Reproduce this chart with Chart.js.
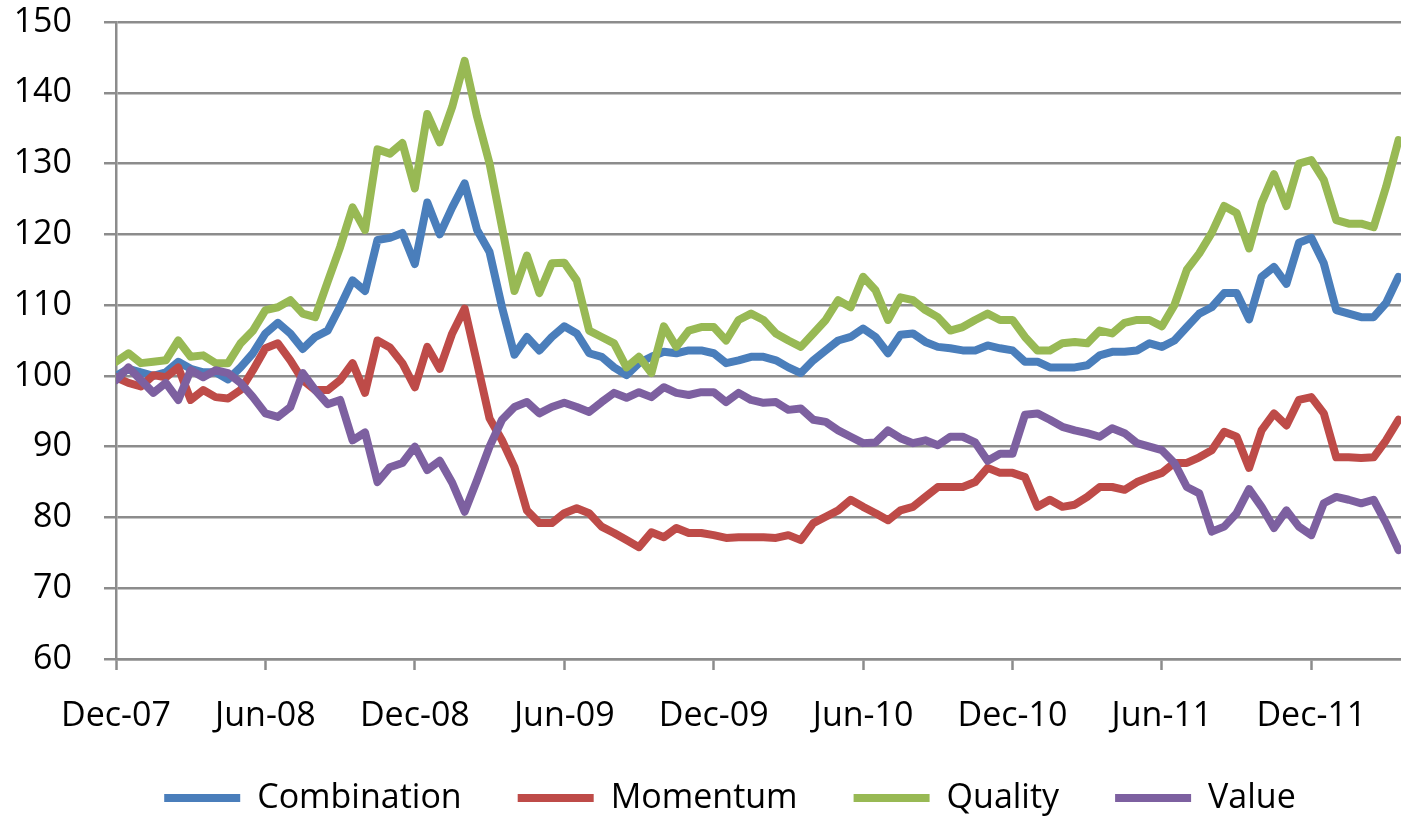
<!DOCTYPE html>
<html>
<head>
<meta charset="utf-8">
<script src="https://cdn.jsdelivr.net/npm/chart.js@4.4.1/dist/chart.umd.min.js"></script>
<style>
  html, body { margin: 0; padding: 0; background: #ffffff; }
  #wrap { width: 1401px; height: 820px; }
</style>
</head>
<body>
<div id="wrap"><canvas id="c" width="1401" height="820"></canvas></div>
<script>
// Months since Dec-2007 (semi-monthly observations)
const months = [
  0, 0.5, 1, 1.5, 2, 2.5, 3, 3.5, 4, 4.5,
  5, 5.5, 6, 6.5, 7, 7.5, 8, 8.5, 9, 9.5,
  10, 10.5, 11, 11.5, 12, 12.5, 13, 13.5, 14, 14.5,
  15, 15.5, 16, 16.5, 17, 17.5, 18, 18.5, 19, 19.5,
  20, 20.5, 21, 21.5, 22, 22.5, 23, 23.5, 24, 24.5,
  25, 25.5, 26, 26.5, 27, 27.5, 28, 28.5, 29, 29.5,
  30, 30.5, 31, 31.5, 32, 32.5, 33, 33.5, 34, 34.5,
  35, 35.5, 36, 36.5, 37, 37.5, 38, 38.5, 39, 39.5,
  40, 40.5, 41, 41.5, 42, 42.5, 43, 43.5, 44, 44.5,
  45, 45.5, 46, 46.5, 47, 47.5, 48, 48.5, 49, 49.5,
  50, 50.5, 51, 51.5
];

const combination = [
  100, 101, 100.5, 100, 100.5, 102, 101, 100.5, 100.5, 99.5,
  101.2, 103.2, 106, 107.5, 106, 103.8, 105.5, 106.4, 109.8, 113.5,
  112, 119.2, 119.5, 120.2, 115.8, 124.5, 120, 123.8, 127.2, 120.6,
  117.5, 109.7, 103, 105.5, 103.6, 105.5, 107, 106, 103.2, 102.7,
  101.2, 100.1, 101.8, 102.7, 103.4, 103.2, 103.6, 103.6, 103.2, 101.8,
  102.2, 102.7, 102.7, 102.2, 101.2, 100.4, 102.2, 103.6, 105, 105.5,
  106.7, 105.5, 103.2, 105.8, 106, 104.8, 104.1, 103.9, 103.6, 103.6,
  104.3, 103.9, 103.6, 102, 102, 101.2, 101.2, 101.2, 101.5, 102.9,
  103.4, 103.4, 103.6, 104.6, 104.1, 105, 106.9, 108.8, 109.7, 111.7,
  111.7, 108, 114, 115.4, 113, 118.8, 119.5, 115.9, 109.3, 108.8,
  108.3, 108.3, 110.3, 114
];

const momentum = [
  99.8, 99, 98.5, 100.1, 99.8, 101.2, 96.6, 98, 97, 96.8,
  98, 100.8, 103.9, 104.6, 102.2, 99.4, 98, 98, 99.4, 101.8,
  97.6, 105, 104, 101.8, 98.4, 104.1, 101, 106, 109.5, 101.8,
  94, 90.9, 87.1, 81, 79.2, 79.2, 80.6, 81.3, 80.6, 78.7,
  77.8, 76.8, 75.8, 77.9, 77.2, 78.5, 77.8, 77.8, 77.5, 77.1,
  77.2, 77.2, 77.2, 77.1, 77.5, 76.8, 79.2, 80.1, 81, 82.5,
  81.5, 80.6, 79.6, 81, 81.5, 82.9, 84.3, 84.3, 84.3, 85,
  87, 86.3, 86.3, 85.7, 81.5, 82.5, 81.5, 81.8, 82.9, 84.3,
  84.3, 83.9, 85, 85.7, 86.3, 87.7, 87.7, 88.5, 89.5, 92.1,
  91.4, 87, 92.3, 94.7, 93, 96.6, 97, 94.7, 88.5, 88.5,
  88.4, 88.5, 90.9, 93.8
];

const quality = [
  102, 103.2, 101.8, 102, 102.2, 105, 102.7, 102.9, 101.8, 101.8,
  104.6, 106.4, 109.3, 109.7, 110.7, 108.8, 108.3, 113.3, 118.2, 123.8,
  120.6, 132, 131.4, 132.9, 126.5, 137, 133, 138, 144.5, 136.6,
  130, 121, 112, 117, 111.7, 115.9, 116, 113.5, 106.4, 105.5,
  104.6, 101.2, 102.7, 100.4, 107, 104.1, 106.4, 106.9, 106.9, 105,
  107.9, 108.8, 107.9, 106, 105, 104.1, 106, 107.9, 110.7, 109.7,
  114, 112.1, 107.9, 111.1, 110.7, 109.3, 108.3, 106.4, 106.9, 107.9,
  108.8, 107.9, 107.9, 105.5, 103.6, 103.6, 104.6, 104.8, 104.6, 106.4,
  106, 107.5, 107.9, 107.9, 107, 110, 115, 117.3, 120.2, 124,
  123, 118, 124.4, 128.5, 124, 130, 130.5, 127.7, 122, 121.5,
  121.5, 121, 126.7, 133.3
];

const value = [
  99.4, 101.2, 99.4, 97.6, 99, 96.6, 100.8, 99.8, 100.8, 100.4,
  99, 97, 94.7, 94.2, 95.6, 100.4, 98, 96, 96.6, 90.9,
  92, 85, 87.1, 87.7, 90, 86.7, 88, 84.9, 80.8, 85.3,
  90, 93.8, 95.6, 96.3, 94.7, 95.6, 96.2, 95.6, 94.9, 96.3,
  97.6, 96.9, 97.7, 97, 98.4, 97.6, 97.3, 97.7, 97.7, 96.3,
  97.6, 96.6, 96.2, 96.3, 95.2, 95.4, 93.8, 93.5, 92.3, 91.4,
  90.5, 90.6, 92.3, 91.2, 90.5, 90.9, 90.2, 91.4, 91.4, 90.6,
  88, 89, 89, 94.5, 94.7, 93.8, 92.8, 92.3, 91.9, 91.4,
  92.6, 91.9, 90.5, 90, 89.5, 87.7, 84.3, 83.4, 78, 78.7,
  80.6, 84, 81.5, 78.5, 81, 78.7, 77.5, 82, 82.9, 82.5,
  82, 82.5, 79.2, 75.4
];

const tickMonths = [0, 6, 12, 18, 24, 30, 36, 42, 48];
const tickLabels = ['Dec-07', 'Jun-08', 'Dec-08', 'Jun-09', 'Dec-09', 'Jun-10', 'Dec-10', 'Jun-11', 'Dec-11'];

const seriesNames = ['Combination', 'Momentum', 'Quality', 'Value'];
const seriesData = [combination, momentum, quality, value];
const seriesColors = ['#4A7EBB', '#BE4B48', '#98B954', '#7D60A0'];
const seriesOrder = [4, 3, 2, 1];

const FONT = "'Open Sans', 'Liberation Sans', sans-serif";
const GRID = '#8c8c8c';

const datasets = seriesNames.map((name, i) => ({
  label: name,
  data: months.map((m, j) => ({ x: m, y: seriesData[i][j] })),
  borderColor: seriesColors[i],
  backgroundColor: seriesColors[i],
  borderWidth: 8,
  borderCapStyle: 'round',
  borderJoinStyle: 'round',
  pointRadius: 0,
  pointHoverRadius: 0,
  pointStyle: 'line',
  tension: 0,
  order: seriesOrder[i]
}));

// Nudge the legend box so its row sits where the reference places it.
const legendPlacement = {
  id: 'legendPlacement',
  afterLayout(chart) {
    const lg = chart.legend;
    if (!lg) return;
    lg.left += 45;
    lg.top -= 14;
    lg.bottom -= 14;
  }
};

new Chart(document.getElementById('c'), {
  type: 'line',
  data: { datasets },
  plugins: [legendPlacement],
  options: {
    responsive: false,
    animation: false,
    devicePixelRatio: 1,
    layout: { padding: { left: 14, right: 0, top: 22, bottom: -19 } },
    plugins: {
      tooltip: { enabled: false },
      legend: {
        position: 'bottom',
        labels: {
          usePointStyle: true,
          pointStyle: 'line',
          pointStyleWidth: 76,
          boxHeight: 34,
          padding: 56,
          color: '#000000',
          font: { family: FONT, size: 34 },
          sort: (a, b) => a.datasetIndex - b.datasetIndex
        }
      }
    },
    scales: {
      x: {
        type: 'linear',
        min: 0,
        max: 51.6,
        afterBuildTicks: (axis) => { axis.ticks = tickMonths.map(v => ({ value: v })); },
        afterFit: (s) => { s.height = 80; s.paddingLeft = 0; s.paddingRight = 0; },
        ticks: {
          autoSkip: false,
          maxRotation: 0,
          padding: 26,
          color: '#000000',
          font: { family: FONT, size: 34 },
          callback: (v) => { const k = tickMonths.indexOf(v); return k >= 0 ? tickLabels[k] : ''; }
        },
        grid: { drawOnChartArea: false, drawTicks: true, tickLength: 11, tickWidth: 2.5, tickColor: GRID },
        border: { display: true, color: GRID, width: 2.5 }
      },
      y: {
        min: 60,
        max: 150,
        afterFit: (s) => { s.width = 102; s.paddingTop = 0; s.paddingBottom = 0; },
        ticks: {
          stepSize: 10,
          padding: 32,
          color: '#000000',
          font: { family: FONT, size: 34 }
        },
        grid: { color: GRID, lineWidth: 2.5, tickLength: 12, tickColor: GRID },
        border: { display: true, color: GRID, width: 2.5 }
      }
    }
  }
});
</script>
</body>
</html>
